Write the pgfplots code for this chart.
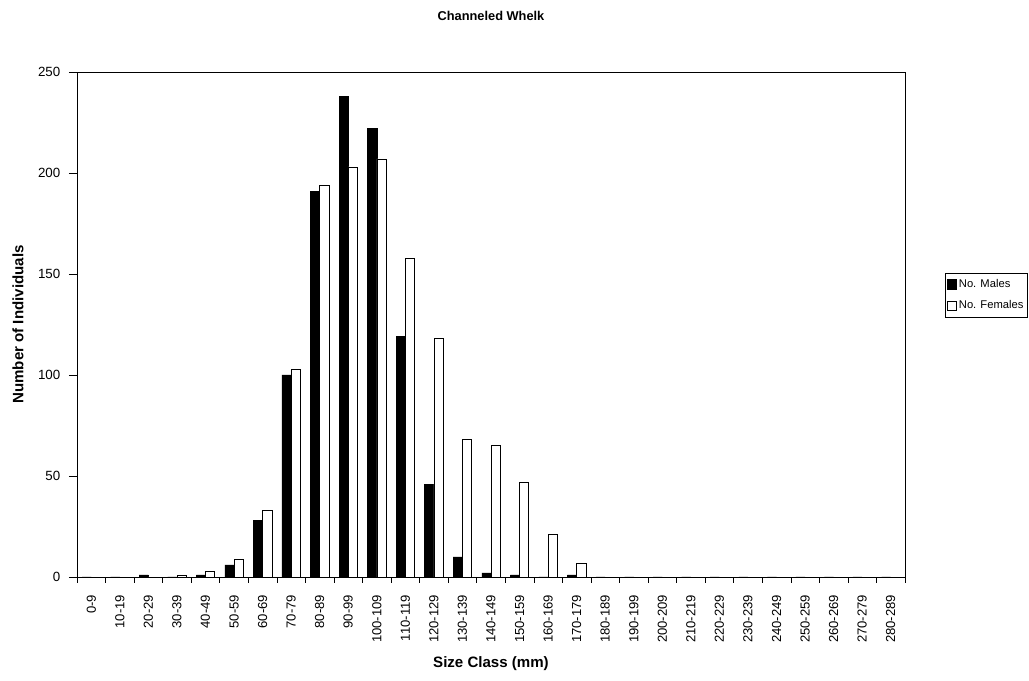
\documentclass[border=0pt]{standalone}
\usepackage{pgfplots}
\pgfplotsset{compat=1.18}
\usepackage{fontspec}
\setmainfont{Liberation Sans}
\begin{document}
\begin{tikzpicture}
\begin{axis}[
  at={(0,0)}, anchor=south west,
  scale only axis, width=621pt, height=378.75pt,
  xmin=-0.5, xmax=28.5, ymin=0, ymax=250,
  ybar=0pt, bar width=6.9pt,
  xtick={0,...,28},
  xticklabels={0-9,10-19,20-29,30-39,40-49,50-59,60-69,70-79,80-89,90-99,100-109,110-119,120-129,130-139,140-149,150-159,160-169,170-179,180-189,190-199,200-209,210-219,220-229,230-239,240-249,250-259,260-269,270-279,280-289},
  major x tick style={draw=none},
  minor xtick={-0.5,0.5,...,28.5},
  minor x tick style={black, thin},
  minor tick length=4.5pt,
  ytick={0,50,...,250},
  tick align=outside,
  major tick length=6pt,
  xtick pos=bottom, ytick pos=left,
  tick style={black, thin},
  axis line style={black, thin},
  /pgf/number format/assume math mode=true,
  y tick label style={font=\fontsize{10}{12}\selectfont, xshift=-3pt},
  x tick label style={font=\fontsize{9.8}{12}\selectfont, rotate=90, anchor=east, xshift=-4pt},
  title={\textbf{Channeled Whelk}},
  title style={at={(0.5,1)}, anchor=center, yshift=36pt, font=\fontsize{9.6}{11}\selectfont},
  xlabel={\textbf{Size Class (mm)}},
  xlabel style={at={(axis description cs:0.5,-0.172)}, anchor=center, font=\fontsize{11.3}{13}\selectfont},
  ylabel={\textbf{Number of Individuals}},
  ylabel style={at={(axis description cs:-0.0713,0.5)}, anchor=center, font=\fontsize{11.3}{13}\selectfont},
  legend style={at={(1.048,0.602)}, anchor=north west, draw=black, thin, font=\fontsize{8.4}{10}\selectfont, inner xsep=1.2pt, inner ysep=2.5pt, row sep=4.5pt, legend cell align=left},
  legend image code/.code={\draw[#1, thin] (0cm,-0.12cm) rectangle (0.24cm,0.12cm);},
]
\addplot[fill=black, draw=black, thin] coordinates {
(0,0) (1,0) (2,1) (3,0) (4,1) (5,6) (6,28) (7,100) (8,191) (9,238) (10,222) (11,119) (12,46) (13,10) (14,2) (15,1) (16,0) (17,1) (18,0) (19,0) (20,0) (21,0) (22,0) (23,0) (24,0) (25,0) (26,0) (27,0) (28,0)};
\addplot[fill=white, draw=black, thin] coordinates {
(0,0) (1,0) (2,0) (3,1) (4,3) (5,9) (6,33) (7,103) (8,194) (9,203) (10,207) (11,158) (12,118) (13,68) (14,65) (15,47) (16,21) (17,7) (18,0) (19,0) (20,0) (21,0) (22,0) (23,0) (24,0) (25,0) (26,0) (27,0) (28,0)};
\legend{No. Males, No. Females}
\end{axis}
\path[use as bounding box] (-57.75pt,-78pt) rectangle (714pt,432.75pt);
\end{tikzpicture}
\end{document}
